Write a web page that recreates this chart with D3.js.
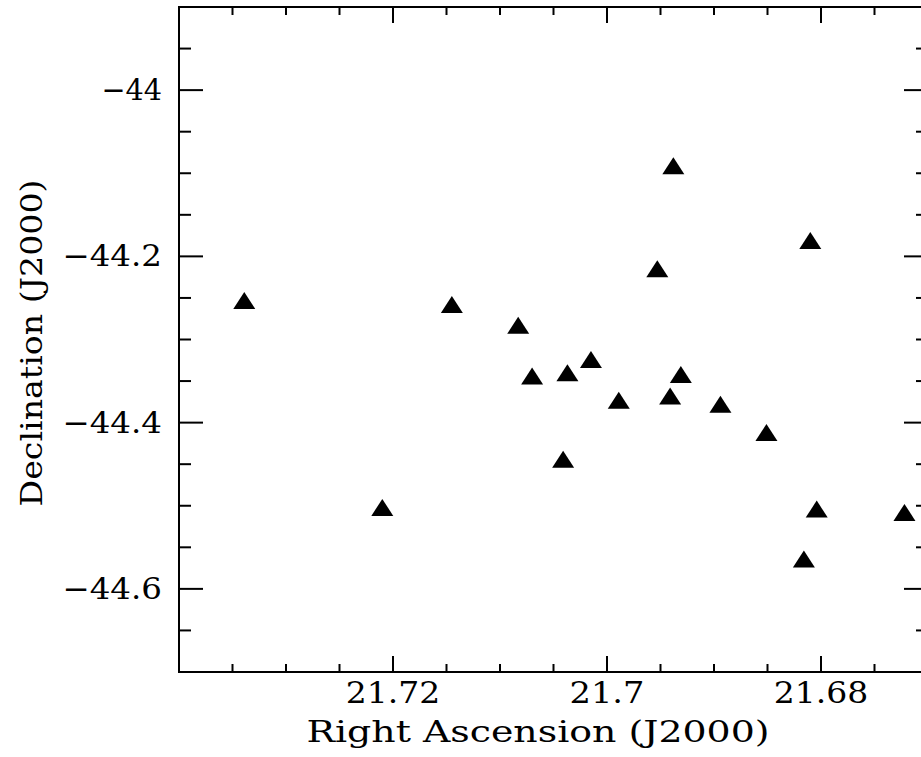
<!DOCTYPE html>
<html>
<head>
<meta charset="utf-8">
<script src="https://cdn.jsdelivr.net/npm/d3@7"></script>
<style>
  html, body { margin: 0; padding: 0; background: #fff; }
  svg { display: block; }
  text { font-family: "DejaVu Serif", serif; fill: #000; }
</style>
</head>
<body>
<div class="scatter_chart"></div>
<script>
// source positions
const raValues = [21.7339, 21.7210, 21.7145, 21.7083, 21.7070, 21.7037, 21.7015, 21.7041, 21.6989, 21.6938,
                  21.6953, 21.6941, 21.6931, 21.6894, 21.6851, 21.6810, 21.6804, 21.6816, 21.6722];
const decValues = [-44.253, -44.502, -44.258, -44.283, -44.344, -44.340, -44.324, -44.444, -44.373, -44.091,
                   -44.215, -44.368, -44.342, -44.378, -44.412, -44.181, -44.504, -44.564, -44.508];

const raMajorTicks = [21.72, 21.70, 21.68];
const raTickLabels = ["21.72", "21.7", "21.68"];
const decMajorTicks = [-44.0, -44.2, -44.4, -44.6];
const decTickLabels = ["\u221244", "\u221244.2", "\u221244.4", "\u221244.6"];

const width = 921, height = 757;
const frameL = 179, frameR = 928, frameT = 7, frameB = 672;
const charW = 19.5; // the plot font is close to fixed width

const svg = d3.select(".scatter_chart")
  .append("svg")
  .attr("width", width)
  .attr("height", height);

// RA runs backwards (east to the left)
const x = d3.scaleLinear().domain([21.74, 21.67]).range([frameL, frameR]);
const y = d3.scaleLinear().domain([-44.7, -43.9]).range([frameB, frameT]);

const raMinor = d3.range(0, 15).map(i => 21.74 - i * 0.005).filter(v => v > 21.67);
const decMinor = d3.range(0, 17).map(i => -44.7 + i * 0.05).filter(v => v < -43.9);
const isMajor = (v, step) => Math.abs(v / step - Math.round(v / step)) < 1e-6;

const ticks = svg.append("g").attr("stroke", "#000").attr("stroke-width", 2);

// top + bottom ticks
raMinor.forEach(v => {
  const len = isMajor(v, 0.02) ? 16 : 8;
  const px = x(v);
  ticks.append("line").attr("x1", px).attr("x2", px).attr("y1", frameB).attr("y2", frameB - len);
  ticks.append("line").attr("x1", px).attr("x2", px).attr("y1", frameT).attr("y2", frameT + len);
});

// left + right ticks
decMinor.forEach(v => {
  const len = isMajor(v, 0.2) ? 24 : 12;
  const py = y(v);
  ticks.append("line").attr("x1", frameL).attr("x2", frameL + len).attr("y1", py).attr("y2", py);
  ticks.append("line").attr("x1", frameR).attr("x2", frameR - len).attr("y1", py).attr("y2", py);
});

// frame
svg.append("rect")
  .attr("x", frameL).attr("y", frameT)
  .attr("width", frameR - frameL).attr("height", frameB - frameT)
  .attr("fill", "none").attr("stroke", "#000").attr("stroke-width", 2);

// tick labels
svg.append("g").selectAll("text")
  .data(raMajorTicks)
  .join("text")
  .attr("x", d => x(d))
  .attr("y", 703)
  .attr("text-anchor", "middle")
  .attr("textLength", (d, i) => raTickLabels[i].length * charW - 3)
  .attr("lengthAdjust", "spacingAndGlyphs")
  .style("font-size", "30px")
  .text((d, i) => raTickLabels[i]);

svg.append("g").selectAll("text")
  .data(decMajorTicks)
  .join("text")
  .attr("x", 162)
  .attr("y", d => y(d) + 10)
  .attr("text-anchor", "end")
  .attr("textLength", (d, i) => decTickLabels[i].length * charW + 2)
  .attr("lengthAdjust", "spacingAndGlyphs")
  .style("font-size", "30px")
  .text((d, i) => decTickLabels[i]);

// axis titles
svg.append("text")
  .attr("x", 538)
  .attr("y", 742)
  .attr("text-anchor", "middle")
  .attr("textLength", 463)
  .attr("lengthAdjust", "spacingAndGlyphs")
  .style("font-size", "29px")
  .text("Right Ascension (J2000)");

svg.append("text")
  .attr("transform", "translate(42,343) rotate(-90)")
  .attr("text-anchor", "middle")
  .attr("textLength", 327)
  .attr("lengthAdjust", "spacingAndGlyphs")
  .style("font-size", "29px")
  .text("Declination (J2000)");

// sources: filled triangles
svg.append("g").selectAll("path")
  .data(d3.zip(raValues, decValues))
  .join("path")
  .attr("transform", d => "translate(" + x(d[0]) + "," + y(d[1]) + ")")
  .attr("d", "M0,-8.5L11,8.5L-11,8.5Z")
  .attr("fill", "#000");
</script>
</body>
</html>
